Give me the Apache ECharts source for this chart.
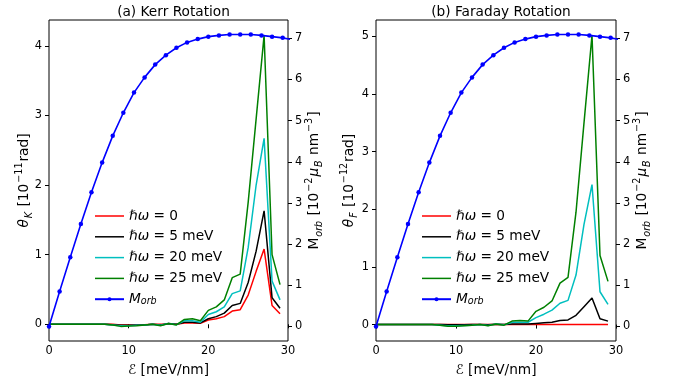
<!DOCTYPE html>
<html>
<head>
<meta charset="utf-8">
<script src="https://cdn.jsdelivr.net/npm/echarts@6/dist/echarts.min.js"></script>
<style>
html,body{margin:0;padding:0;background:#fff;}
#chart{width:673px;height:386px;}
</style>
</head>
<body>
<div id="chart"></div>
<script>
// ---- data ----
const field = [0,1,2,3,4,5,6,7,8,9,10,11,12,13,14,15,16,17,18,19,20,21,22,23,24,25,26,27,28,29];
const kerr0  = [0,0,0,0,0,0,0,0,0,-0.01,-0.01,-0.01,-0.005,0,0,0,0,0.02,0.02,0.015,0.06,0.08,0.11,0.19,0.21,0.42,0.76,1.08,0.27,0.15];
const kerr5  = [0,0,0,0,0,0,0,0,-0.005,-0.015,-0.015,-0.01,-0.01,0,-0.01,0.01,0,0.03,0.03,0.02,0.08,0.11,0.16,0.27,0.30,0.60,1.05,1.63,0.38,0.23];
const kerr20 = [0,0,0,0,0,0,0,0,-0.01,-0.02,-0.02,-0.015,-0.01,0,-0.015,0.01,-0.005,0.05,0.05,0.03,0.14,0.18,0.25,0.44,0.48,1.10,2.00,2.67,0.62,0.35];
const kerr25 = [0,0,0,0,0,0,0,0,-0.01,-0.03,-0.025,-0.02,-0.01,0,-0.02,0.01,-0.01,0.07,0.08,0.05,0.20,0.25,0.35,0.67,0.72,1.75,2.95,4.15,1.00,0.57];
const far0   = [0,0,0,0,0,0,0,0,0,0,0,0,0,0,0,0,0,0,0,0,0,0,0,0,0,0,0,0,0,0];
const far5   = [0,0,0,0,0,0,0,0,0,-0.005,-0.005,-0.005,0,0,-0.005,0.005,0,0.01,0.01,0.01,0.02,0.03,0.04,0.07,0.08,0.16,0.31,0.46,0.10,0.06];
const far20  = [0,0,0,0,0,0,0,0,-0.01,-0.02,-0.02,-0.015,-0.01,0,-0.015,0.01,-0.005,0.04,0.04,0.04,0.12,0.18,0.25,0.37,0.42,0.86,1.74,2.43,0.57,0.35];
const far25  = [0,0,0,0,0,0,0,0,-0.01,-0.03,-0.03,-0.02,-0.01,0,-0.02,0.01,-0.01,0.06,0.07,0.06,0.23,0.30,0.41,0.72,0.82,1.95,3.50,5.02,1.20,0.75];
const morbField = [0,1.33,2.67,4,5.33,6.67,8,9.33,10.67,12,13.33,14.67,16,17.33,18.67,20,21.33,22.67,24,25.33,26.67,28,29.33,30.67];
const morb = [0,0.85,1.68,2.49,3.26,3.98,4.63,5.19,5.68,6.05,6.36,6.59,6.77,6.90,6.98,7.04,7.07,7.09,7.09,7.09,7.07,7.04,7.01,6.96];
const xTicks = [0,10,20,30];
const kerrTicks = [0,1,2,3,4];
const farTicks = [0,1,2,3,4,5];
const morbTicks = [0,1,2,3,4,5,6,7];
const seriesNames = ['ℏω = 0','ℏω = 5 meV','ℏω = 20 meV','ℏω = 25 meV','Morb'];
const colors = ['#ff0000','#000000','#00bfbf','#008000','#0000ff'];
const titles = ['(a) Kerr Rotation','(b) Faraday Rotation'];

// ---- layout ----
const FONT = 'DejaVu Sans';
const FS = 11.4;   // tick labels
const LS = 13.7;   // axis names, legend, titles
const SS = 9.6;    // sub/superscripts
const grids = [
  {left: 49, top: 20, width: 239, height: 321},
  {left: 376, top: 20, width: 240, height: 321}
];
const pair = (xs, ys) => xs.map((x, i) => [x, ys[i]]);

const richBase = {
  n:   {fontFamily: FONT, fontSize: LS, color: '#000', lineHeight: 20, verticalAlign: 'middle'},
  it:  {fontFamily: FONT, fontSize: LS, fontStyle: 'italic', color: '#000', lineHeight: 20, verticalAlign: 'middle'},
  sub: {fontFamily: FONT, fontSize: SS, fontStyle: 'italic', color: '#000', lineHeight: 13, verticalAlign: 'bottom', padding: [0,1,0,1]},
  sup: {fontFamily: FONT, fontSize: SS, color: '#000', lineHeight: 10, verticalAlign: 'top', padding: [0,1,0,1]}
};

function xAxisDef(gi) {
  return {
    type: 'value', gridIndex: gi, min: 0, max: 30, interval: 10,
    axisLine: {show: false},
    axisTick: {show: true, inside: false, length: 4, lineStyle: {color: '#000', width: 1}},
    axisLabel: {show: true, margin: 5, color: '#000', fontFamily: FONT, fontSize: FS},
    splitLine: {show: false},
    name: '{it|ℰ}{n| [meV/nm]}', nameLocation: 'middle', nameGap: 19, nameMoveOverlap: false,
    nameTextStyle: {rich: richBase}
  };
}
function yAxisDef(gi, pos, min, max, ticks, name, gap) {
  return {
    type: 'value', gridIndex: gi, position: pos, min: min, max: max,
    axisLine: {show: false},
    axisTick: {show: true, inside: false, length: 4, customValues: ticks, lineStyle: {color: '#000', width: 1}},
    axisLabel: {show: true, margin: 7, customValues: ticks, color: '#000', fontFamily: FONT, fontSize: FS},
    splitLine: {show: false},
    name: name, nameLocation: 'middle', nameGap: gap, nameRotate: 90, nameMoveOverlap: false,
    nameTextStyle: {rich: richBase}
  };
}

const legendRich = {
  n:   {fontFamily: FONT, fontSize: LS, color: '#000'},
  it:  {fontFamily: FONT, fontSize: LS, fontStyle: 'italic', color: '#000'},
  sub: {fontFamily: FONT, fontSize: SS, fontStyle: 'italic', color: '#000', verticalAlign: 'bottom'}
};
const lineIcon = 'path://M0,0H29V1.5H0Z';
function legendFmt(name) {
  if (name === 'Morb') return '{it|M}{sub|orb}';
  return '{it|ℏω}{n|' + name.replace('ℏω', '') + '}';
}
function legendDef(left) {
  return {
    orient: 'vertical', left: left, top: 204, itemWidth: 29, itemHeight: 5, itemGap: 6.8,
    selectedMode: false,
    data: seriesNames.map(n => n === 'Morb' ? {name: n} : {name: n, icon: lineIcon}),
    formatter: legendFmt,
    textStyle: {fontFamily: FONT, fontSize: LS, color: '#000', rich: legendRich}
  };
}

const panelData = [[kerr0, kerr5, kerr20, kerr25], [far0, far5, far20, far25]];
const series = [];
panelData.forEach((sets, p) => {
  sets.forEach((ys, k) => {
    series.push({
      type: 'line', name: seriesNames[k], xAxisIndex: p, yAxisIndex: 2 * p,
      data: pair(field, ys), symbol: 'none', showSymbol: false, clip: true,
      lineStyle: {color: colors[k], width: 1.5}, itemStyle: {color: colors[k]}, z: 2 + k
    });
  });
  series.push({
    type: 'line', name: 'Morb', xAxisIndex: p, yAxisIndex: 2 * p + 1,
    data: pair(morbField, morb), symbol: 'circle', symbolSize: 4.5, showSymbol: true, clip: true,
    lineStyle: {color: colors[4], width: 1.6}, itemStyle: {color: colors[4]}, z: 10
  });
});

const option = {
  animation: false,
  backgroundColor: '#fff',
  title: titles.map((t, i) => ({
    text: t, left: grids[i].left + grids[i].width / 2, top: 0, textAlign: 'center',
    textStyle: {fontFamily: FONT, fontSize: LS, fontWeight: 'normal', color: '#000'}
  })),
  grid: grids.map(g => Object.assign({show: true, borderColor: '#000', borderWidth: 1, backgroundColor: 'transparent', containLabel: false}, g)),
  legend: [legendDef(89), legendDef(416)],
  xAxis: [xAxisDef(0), xAxisDef(1)],
  yAxis: [
    yAxisDef(0, 'left', -0.24, 4.37, kerrTicks, '{it|θ}{sub|K}{n| [10}{sup|−11}{n|rad]}', 15),
    yAxisDef(0, 'right', -0.354, 7.444, morbTicks, '{n|M}{sub|orb}{n| [10}{sup|−2}{it|μ}{sub|B}{n| nm}{sup|−3}{n|]}', 16),
    yAxisDef(1, 'left', -0.285, 5.285, farTicks, '{it|θ}{sub|F}{n| [10}{sup|−12}{n|rad]}', 17),
    yAxisDef(1, 'right', -0.354, 7.444, morbTicks, '{n|M}{sub|orb}{n| [10}{sup|−2}{it|μ}{sub|B}{n| nm}{sup|−3}{n|]}', 16)
  ],
  series: series
};
const chart = echarts.init(document.getElementById('chart'), null, {renderer: 'canvas'});
chart.setOption(option);
</script>
</body>
</html>
